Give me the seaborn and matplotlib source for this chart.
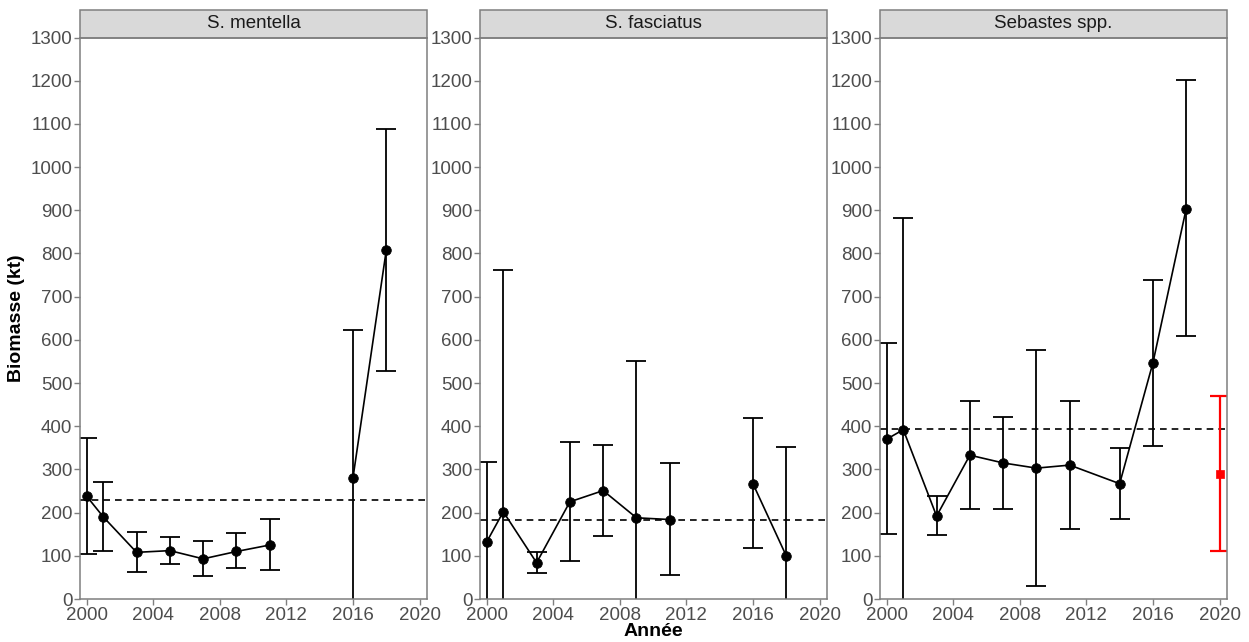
import numpy as np
import pandas as pd
import matplotlib
matplotlib.use("Agg")
import matplotlib.pyplot as plt
import seaborn as sns
from matplotlib.patches import Rectangle

# ---- data ----
panels = ["S. mentella", "S. fasciatus", "Sebastes spp."]

years_ment = [2000, 2001, 2003, 2005, 2007, 2009, 2011, 2016, 2018]
bio_ment   = [238, 190, 108, 112, 93, 110, 125, 280, 807]
low_ment   = [105, 110, 62, 82, 53, 72, 67, 0, 527]
high_ment  = [372, 270, 156, 143, 135, 152, 186, 622, 1088]
ref_ment   = 230

years_fasc = [2000, 2001, 2003, 2005, 2007, 2009, 2011, 2016, 2018]
bio_fasc   = [132, 202, 84, 225, 251, 188, 184, 267, 100]
low_fasc   = [0, 0, 60, 88, 146, 0, 55, 117, 0]
high_fasc  = [318, 762, 108, 363, 357, 552, 314, 418, 353]
ref_fasc   = 182

years_seb = [2000, 2001, 2003, 2005, 2007, 2009, 2011, 2014, 2016, 2018]
bio_seb   = [370, 392, 192, 333, 315, 303, 310, 267, 547, 904]
low_seb   = [150, 0, 148, 208, 208, 30, 162, 185, 355, 608]
high_seb  = [592, 882, 239, 458, 422, 577, 458, 350, 738, 1202]
ref_seb   = 393

# 2020 point (red)
year_2020 = [2020]
bio_2020  = [290]
low_2020  = [110]
high_2020 = [470]

# segment groups (line breaks where survey missing)
seg_ment = [0, 0, 0, 0, 0, 0, 0, 1, 1]
seg_fasc = [0, 0, 0, 0, 0, 0, 0, 1, 1]
seg_seb  = [0, 0, 0, 0, 0, 0, 0, 0, 0, 0]

y_ticks = list(range(0, 1301, 100))
x_ticks = [2000, 2004, 2008, 2012, 2016, 2020]

data = [
    (years_ment, bio_ment, low_ment, high_ment, ref_ment, seg_ment),
    (years_fasc, bio_fasc, low_fasc, high_fasc, ref_fasc, seg_fasc),
    (years_seb, bio_seb, low_seb, high_seb, ref_seb, seg_seb),
]

sns.set_theme(style="white")
plt.rcParams["font.family"] = ["Liberation Sans", "DejaVu Sans"]

W, H = 1249, 642
fig = plt.figure(figsize=(W / 100, H / 100), dpi=100)

lefts = [80, 480, 880]
pw = 347
top, bottom = 37.5, 599
frame_col = "#7f7f7f"
tick_col = "#4d4d4d"
CAP = 0.6  # half cap width in years


def draw_bars(ax, df, color, lw):
    ax.vlines(df["year"], df["lo"], df["hi"], color=color, lw=lw, zorder=2)
    ax.hlines(df["hi"], df["year"] - CAP, df["year"] + CAP, color=color,
              lw=lw, zorder=2)
    lo = df[df["lo"] > 0]
    ax.hlines(lo["lo"], lo["year"] - CAP, lo["year"] + CAP, color=color,
              lw=lw, zorder=2)


for i, (yrs, bio, lo, hi, ref, seg) in enumerate(data):
    ax = fig.add_axes([lefts[i] / W, (H - bottom) / H, pw / W, (bottom - top) / H])
    df = pd.DataFrame({"year": yrs, "bio": bio, "lo": lo, "hi": hi, "seg": seg})

    ax.axhline(ref, color="black", ls=(0, (4, 3)), lw=1.2, zorder=1)
    draw_bars(ax, df, "black", 1.3)
    sns.lineplot(data=df, x="year", y="bio", units="seg", estimator=None,
                 color="black", lw=1.2, ax=ax, zorder=3, legend=False)
    sns.scatterplot(data=df, x="year", y="bio", color="black", s=48,
                    edgecolor="black", ax=ax, zorder=4, legend=False)

    if i == 2:
        d2 = pd.DataFrame({"year": year_2020, "bio": bio_2020,
                           "lo": low_2020, "hi": high_2020})
        draw_bars(ax, d2, "red", 1.6)
        sns.scatterplot(data=d2, x="year", y="bio", color="red", marker="s",
                        s=40, edgecolor="red", ax=ax, zorder=4, legend=False)

    ax.set_xlim(1999.6, 2020.45)
    ax.set_ylim(0, 1300)
    ax.set_xticks(x_ticks)
    ax.set_yticks(y_ticks)
    ax.tick_params(axis="both", which="both", length=4, width=1,
                   color=frame_col, labelcolor=tick_col, labelsize=13.5,
                   left=True, bottom=True, pad=1.5)
    for sp in ax.spines.values():
        sp.set_color(frame_col)
        sp.set_linewidth(1.1)
        sp.set_zorder(6)
    ax.set_xlabel("")
    ax.set_ylabel("")
    ax.grid(False)

    # strip
    strip_h = (37.5 - 10) / (bottom - top)
    rect = Rectangle((0, 1), 1, strip_h, transform=ax.transAxes,
                     facecolor="#d9d9d9", edgecolor=frame_col, lw=1.1,
                     clip_on=False, zorder=5)
    ax.add_patch(rect)
    ax.text(0.5, 1 + strip_h / 2, panels[i], transform=ax.transAxes,
            ha="center", va="center", fontsize=13.5, color="#1a1a1a", zorder=6)

    if i == 0:
        ax.set_ylabel("Biomasse (kt)", fontsize=14, fontweight="bold",
                      color="black", labelpad=4)

fig.text(653.5 / W, 1 - 632 / H, "Année", ha="center", va="center",
         fontsize=14, fontweight="bold", color="black")

fig.savefig("out.png", dpi=100, facecolor="white")
